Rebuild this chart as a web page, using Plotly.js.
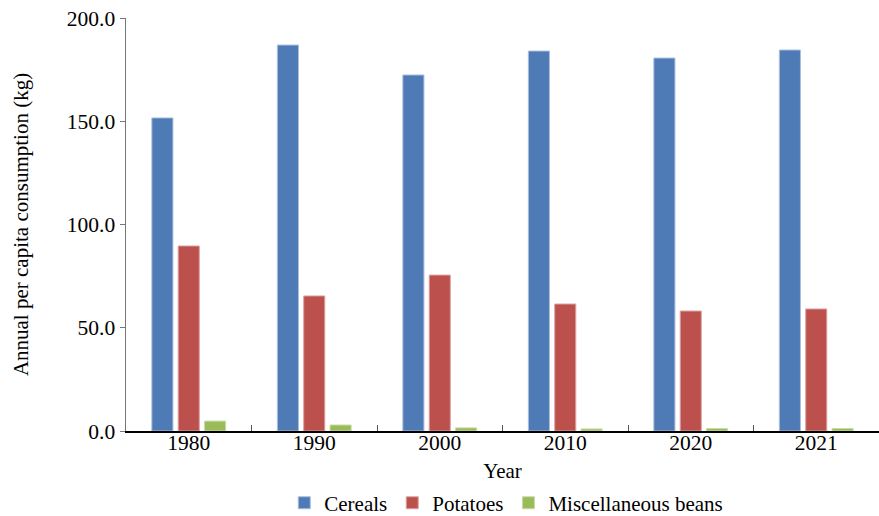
<!DOCTYPE html>
<html>
<head>
<meta charset="utf-8">
<script src="https://cdn.plot.ly/plotly-3.0.1.min.js"></script>
<style>body{margin:0;padding:0;background:#fff}#chart{width:879px;height:516px}</style>
</head>
<body>
<div id="chart"></div>
<script>
const years = ['1980', '1990', '2000', '2010', '2020', '2021'];
const cereals = [151.6, 186.9, 172.4, 184.0, 180.6, 184.5];
const potatoes = [89.6, 65.4, 75.5, 61.5, 58.1, 59.1];
const beans = [4.8, 2.9, 1.5, 1.0, 1.2, 1.2];
const seriesNames = ['Cereals', 'Potatoes', 'Miscellaneous beans'];
const yTicks = [0, 50, 100, 150, 200];

const colors = ['#4E7AB5', '#BC504D', '#9BBB59'];
const edge = ['#A9BEDC', '#DCA3A1', '#C8DBA6'];
const data = [cereals, potatoes, beans].map((v, i) => ({
  type: 'bar', x: years, y: v, name: seriesNames[i],
  marker: {color: colors[i], line: {color: edge[i], width: 1}}
}));

const fam = 'Liberation Serif, Times New Roman, serif';
const font = {family: fam, color: '#000', size: 21};
const layout = {
  width: 879, height: 516,
  margin: {l: 126, r: 0, t: 18, b: 85},
  paper_bgcolor: '#fff', plot_bgcolor: '#fff',
  font: font,
  barmode: 'group', bargap: 0.37, bargroupgap: 0.2,
  showlegend: true,
  legend: {orientation: 'h', x: 0.505, xanchor: 'center', xref: 'paper', yref: 'container', y: 0.025, yanchor: 'middle',
           font: {family: fam, size: 21, color: '#000'}, itemwidth: 30, traceorder: 'normal'},
  xaxis: {
    type: 'category', title: {text: 'Year', font: {family: fam, size: 21}, standoff: 10},
    showline: true, linecolor: '#000', linewidth: 1.5,
    ticks: 'inside', tickson: 'boundaries', ticklen: 6, tickcolor: '#555', tickwidth: 1,
    ticklabelstandoff: -8,
    showgrid: false, zeroline: false, tickfont: {family: fam, size: 21.5}
  },
  yaxis: {
    title: {text: 'Annual per capita consumption (kg)', font: {family: fam, size: 21}, standoff: 32},
    range: [0, 200], tickvals: yTicks, tickformat: '.1f',
    showline: true, linecolor: '#777', linewidth: 1.5,
    ticks: 'outside', ticklen: 5, tickcolor: '#777',
    showgrid: false, zeroline: false, tickfont: {family: fam, size: 21.5}
  }
};
Plotly.newPlot('chart', data, layout, {displayModeBar: false, staticPlot: true});
</script>
</body>
</html>
